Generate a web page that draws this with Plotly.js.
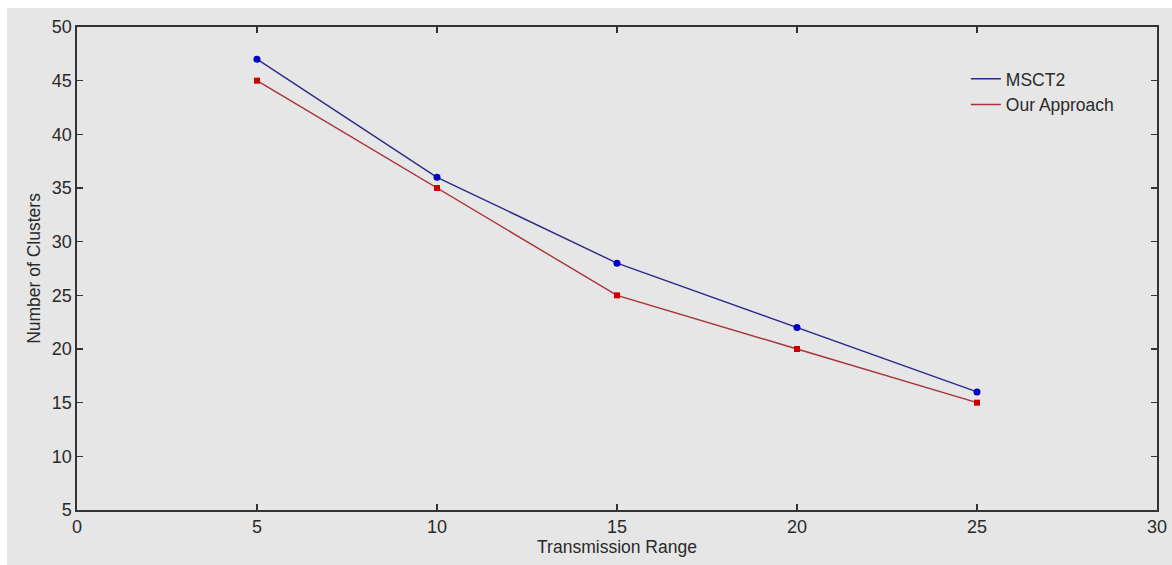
<!DOCTYPE html>
<html>
<head>
<meta charset="utf-8">
<script src="https://cdn.plot.ly/plotly-3.0.1.min.js"></script>
<style>
html,body{margin:0;padding:0;background:#ffffff;}
#chart{position:absolute;left:7px;top:8px;width:1165px;height:557px;}
</style>
</head>
<body>
<div id="chart"></div>
<script>
const transmissionRange = [5, 10, 15, 20, 25];
const msct2 = [47, 36, 28, 22, 16];
const ourApproach = [45, 35, 25, 20, 15];
const xTicks = [0, 5, 10, 15, 20, 25, 30];
const yTicks = [5, 10, 15, 20, 25, 30, 35, 40, 45, 50];

const blueLine = '#2a2a8a', blueMark = '#0000c8';
const redLine = '#a8323a', redMark = '#cc0000';

const traces = [
  {x: transmissionRange, y: msct2, name: 'MSCT2', mode: 'lines',
   line: {color: blueLine, width: 1.4}, showlegend: true, hoverinfo: 'skip'},
  {x: transmissionRange, y: ourApproach, name: 'Our Approach', mode: 'lines',
   line: {color: redLine, width: 1.4}, showlegend: true, hoverinfo: 'skip'},
  {x: transmissionRange, y: msct2, mode: 'markers', showlegend: false,
   marker: {color: blueMark, size: 7, symbol: 'circle'}},
  {x: transmissionRange, y: ourApproach, mode: 'markers', showlegend: false,
   marker: {color: redMark, size: 6, symbol: 'square'}}
];

const axisCommon = {
  showgrid: false, zeroline: false, showline: true, mirror: 'allticks',
  linecolor: '#333333', linewidth: 1.6, ticks: 'inside', ticklen: 6,
  tickcolor: '#333333', tickwidth: 1.3,
  tickfont: {family: 'Liberation Sans, Arial, sans-serif', size: 18, color: '#2a2a2a'}
};

const layout = {
  width: 1165, height: 557,
  paper_bgcolor: '#e6e6e6', plot_bgcolor: '#e6e6e6',
  margin: {l: 70, r: 15, t: 19, b: 55},
  font: {family: 'Liberation Sans, Arial, sans-serif', color: '#2a2a2a'},
  xaxis: Object.assign({}, axisCommon, {
    range: [0, 30], tickvals: xTicks, ticktext: xTicks.map(String),
    title: {text: 'Transmission Range', font: {size: 17.5, color: '#2a2a2a'}, standoff: 2}
  }),
  yaxis: Object.assign({}, axisCommon, {
    range: [5, 50], tickvals: yTicks, ticktext: yTicks.map(String),
    title: {text: 'Number of Clusters', font: {size: 17.5, color: '#2a2a2a'}, standoff: 6}
  }),
  legend: {x: 0.823, y: 0.93, xanchor: 'left', yanchor: 'top',
    bgcolor: 'rgba(0,0,0,0)', borderwidth: 0, tracegroupgap: 0,
    font: {size: 17.5, color: '#2a2a2a'}}
};

Plotly.newPlot('chart', traces, layout, {staticPlot: true});
</script>
</body>
</html>
